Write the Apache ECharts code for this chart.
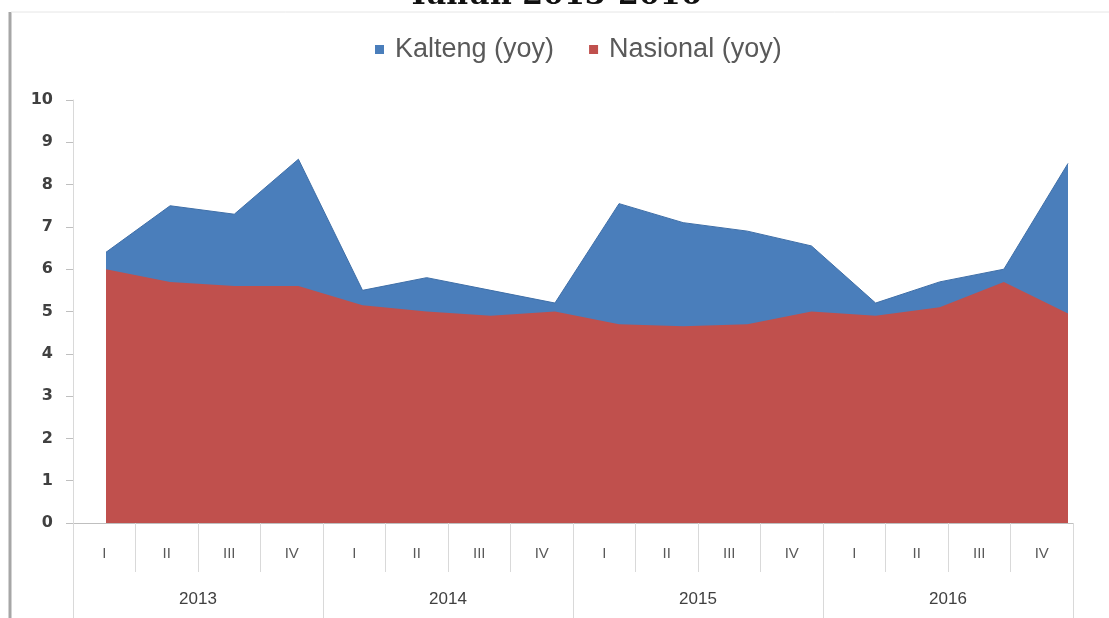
<!DOCTYPE html>
<html>
<head>
<meta charset="utf-8">
<script src="https://cdn.jsdelivr.net/npm/echarts@6/dist/echarts.min.js"></script>
<style>
  html, body { margin: 0; padding: 0; background: #fff; }
  #chart { width: 1109px; height: 618px; }
</style>
</head>
<body>
<div id="chart"></div>
<script>
// kuartal & tahun
var quarters = ["I", "II", "III", "IV", "I", "II", "III", "IV", "I", "II", "III", "IV", "I", "II", "III", "IV"];
var years = ["2013", "2014", "2015", "2016"];
var yTicks = [0, 10, 1]; // min, max, interval

// pertumbuhan ekonomi (yoy, %)
var kalteng = [6.4, 7.5, 7.3, 8.6, 5.5, 5.8, 5.5, 5.2, 7.55, 7.1, 6.9, 6.55, 5.2, 5.7, 6.0, 8.5];
var nasional = [6.0, 5.7, 5.6, 5.6, 5.15, 5.0, 4.9, 5.0, 4.7, 4.65, 4.7, 5.0, 4.9, 5.1, 5.7, 4.95];

var chart = echarts.init(document.getElementById("chart"));

var option = {
  backgroundColor: "#fff",
  animation: false,
  title: {
    text: "Tahun 2013-2016",
    left: "center",
    top: -24,
    textStyle: { fontFamily: "DejaVu Serif", fontWeight: "bold", fontSize: 30, color: "#111" }
  },
  legend: {
    top: 31,
    left: 370,
    icon: "rect",
    itemWidth: 9,
    itemHeight: 9,
    itemGap: 35,
    textStyle: { fontFamily: "Liberation Sans", fontSize: 27, color: "#595959", padding: [0, 0, 0, 6] },
    data: ["Kalteng (yoy)", "Nasional (yoy)"]
  },
  graphic: [
    { type: "line", shape: { x1: 10, y1: 12, x2: 10, y2: 618 }, style: { stroke: "#a6a6a6", lineWidth: 3 } },
    { type: "line", shape: { x1: 11, y1: 12, x2: 1109, y2: 12 }, style: { stroke: "#e6e6e6", lineWidth: 1 } }
  ],
  grid: [
    // area marks
    { left: 106, right: 41, top: 100, bottom: 95 },
    // axes
    { left: 73, right: 36, top: 100, bottom: 95 }
  ],
  xAxis: [
    {
      type: "category", gridIndex: 0, data: quarters, boundaryGap: false, show: false
    },
    {
      type: "category", gridIndex: 1, data: quarters, position: "bottom",
      axisLine: { show: true, lineStyle: { color: "#bfbfbf" } },
      axisTick: { show: true, length: 49, interval: 0, lineStyle: { color: "#d9d9d9" } },
      axisLabel: { margin: 23, interval: 0, fontFamily: "Liberation Sans", fontSize: 15, color: "#595959" }
    },
    {
      type: "category", gridIndex: 1, data: years, position: "bottom",
      axisLine: { show: false },
      axisTick: { show: true, length: 95, interval: 0, lineStyle: { color: "#d9d9d9" } },
      axisLabel: { margin: 68, fontFamily: "Liberation Sans", fontSize: 17, color: "#404040" }
    }
  ],
  yAxis: [
    {
      type: "value", gridIndex: 0, min: yTicks[0], max: yTicks[1], interval: yTicks[2], show: false
    },
    {
      type: "value", gridIndex: 1, min: yTicks[0], max: yTicks[1], interval: yTicks[2],
      axisLine: { show: true, lineStyle: { color: "#d9d9d9" } },
      axisTick: { show: true, length: 7, lineStyle: { color: "#bfbfbf" } },
      splitLine: { show: false },
      axisLabel: { margin: 20, fontFamily: "DejaVu Sans", fontWeight: "bold", fontSize: 16, color: "#404040" }
    }
  ],
  series: [
    {
      name: "Kalteng (yoy)",
      type: "line",
      xAxisIndex: 0, yAxisIndex: 0,
      data: kalteng,
      symbol: "none",
      color: "#4a7ebb",
      lineStyle: { width: 1, color: "#3f6fa8" },
      areaStyle: { color: "#4a7ebb", opacity: 1 }
    },
    {
      name: "Nasional (yoy)",
      type: "line",
      xAxisIndex: 0, yAxisIndex: 0,
      data: nasional,
      symbol: "none",
      color: "#c0504d",
      lineStyle: { width: 0 },
      areaStyle: { color: "#c0504d", opacity: 1 }
    }
  ]
};

chart.setOption(option);
</script>
</body>
</html>
